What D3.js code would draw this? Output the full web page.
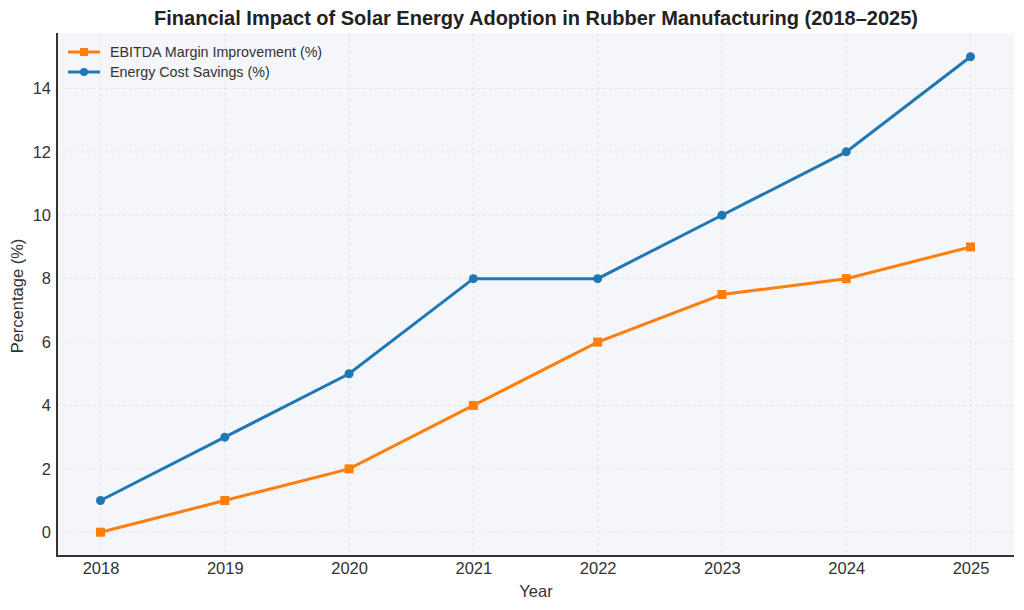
<!DOCTYPE html>
<html><head><meta charset="utf-8">
<script src="https://cdn.jsdelivr.net/npm/d3@7/dist/d3.min.js"></script>
<style>body{margin:0;background:#fff;font-family:"Liberation Sans",Arial,sans-serif;}</style>
</head><body><svg id="c" width="1024" height="610"></svg>
<script>
const years = [2018, 2019, 2020, 2021, 2022, 2023, 2024, 2025];
const ebitda = [0, 1, 2, 4, 6, 7.5, 8, 9];
const energy = [1, 3, 5, 8, 8, 10, 12, 15];
const yTicks = [0, 2, 4, 6, 8, 10, 12, 14];
const seriesNames = ["EBITDA Margin Improvement (%)", "Energy Cost Savings (%)"];

const svg = d3.select("#c");
const m = {l: 57, r: 1014, t: 33, b: 556};
const x = d3.scaleLinear().domain([2017.65, 2025.35]).range([m.l, m.r]);
const y = d3.scaleLinear().domain([-0.75, 15.75]).range([m.b, m.t]);

svg.append("rect").attr("x", m.l).attr("y", m.t).attr("width", m.r - m.l).attr("height", m.b - m.t).attr("fill", "#f4f6fa");

// grid
const g = svg.append("g");
g.selectAll(".gx").data(years).join("line").attr("x1", d => x(d)).attr("x2", d => x(d)).attr("y1", m.t).attr("y2", m.b)
  .attr("stroke", "#dcdfe5").attr("stroke-width", 0.8).attr("stroke-dasharray", "3,3");
g.selectAll(".gy").data(yTicks).join("line").attr("y1", d => y(d)).attr("y2", d => y(d)).attr("x1", m.l).attr("x2", m.r)
  .attr("stroke", "#dcdfe5").attr("stroke-width", 0.8).attr("stroke-dasharray", "3,3");

// axes
const xa = svg.append("g").attr("transform", `translate(0,${m.b})`).call(d3.axisBottom(x).tickValues(years).tickFormat(d3.format("d")).tickSize(0).tickPadding(6));
const ya = svg.append("g").attr("transform", `translate(${m.l},0)`).call(d3.axisLeft(y).tickValues(yTicks).tickSize(0).tickPadding(6));
[xa, ya].forEach(a => {
  a.select(".domain").remove();
  a.selectAll("text").attr("font-size", 16.5).attr("fill", "#333").attr("font-family", "Liberation Sans, Arial, sans-serif");
});
svg.append("line").attr("x1", m.l).attr("x2", m.l).attr("y1", m.t).attr("y2", m.b + 1).attr("stroke", "#333").attr("stroke-width", 2);
svg.append("line").attr("x1", m.l - 1).attr("x2", m.r).attr("y1", m.b).attr("y2", m.b).attr("stroke", "#333").attr("stroke-width", 2);

// lines
const line = d3.line().x((d, i) => x(years[i])).y(d => y(d));
const cOrange = "#ff7f0e", cBlue = "#1f77b4";
svg.append("path").datum(ebitda).attr("d", line).attr("fill", "none").attr("stroke", cOrange).attr("stroke-width", 3);
svg.selectAll(".sq").data(ebitda).join("rect").attr("x", (d, i) => x(years[i]) - 4.5).attr("y", d => y(d) - 4.5)
  .attr("width", 9).attr("height", 9).attr("fill", cOrange);
svg.append("path").datum(energy).attr("d", line).attr("fill", "none").attr("stroke", cBlue).attr("stroke-width", 3);
svg.selectAll(".ci").data(energy).join("circle").attr("cx", (d, i) => x(years[i])).attr("cy", d => y(d)).attr("r", 4.5).attr("fill", cBlue);

// legend
const lg = svg.append("g");
[[cOrange, "sq"], [cBlue, "ci"]].forEach((s, i) => {
  const yy = 52 + i * 20;
  lg.append("line").attr("x1", 68).attr("x2", 100).attr("y1", yy).attr("y2", yy).attr("stroke", s[0]).attr("stroke-width", 3);
  if (s[1] === "sq") lg.append("rect").attr("x", 80).attr("y", yy - 4).attr("width", 8).attr("height", 8).attr("fill", s[0]);
  else lg.append("circle").attr("cx", 84).attr("cy", yy).attr("r", 4).attr("fill", s[0]);
  lg.append("text").attr("x", 110).attr("y", yy + 5).text(seriesNames[i]).attr("font-size", 14.3).attr("fill", "#333");
});

// titles
svg.append("text").attr("x", 536).attr("y", 25).attr("text-anchor", "middle").attr("font-size", 20).attr("font-weight", "bold").attr("fill", "#222")
  .text("Financial Impact of Solar Energy Adoption in Rubber Manufacturing (2018–2025)");
svg.append("text").attr("x", 536).attr("y", 597).attr("text-anchor", "middle").attr("font-size", 16.5).attr("fill", "#333").text("Year");
svg.append("text").attr("transform", "translate(23,296) rotate(-90)").attr("text-anchor", "middle").attr("font-size", 16.5).attr("fill", "#333").text("Percentage (%)");
</script></body></html>
